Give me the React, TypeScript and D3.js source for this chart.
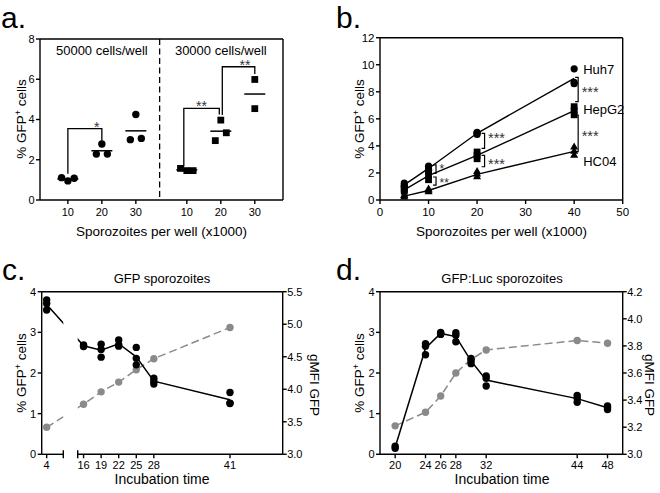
import React from "react";
import * as d3 from "d3";

const FONT = "'Liberation Sans', Arial, Helvetica, sans-serif";
const SW = 1.4;
const GREY = "#8a8a8a";

// ---------- Panel a ----------
const aDoses = ["10", "20", "30"];
const aGroupLabels = ["50000 cells/well", "30000 cells/well"];
const a50k = [[1.11, 0.95, 1.08], [2.78, 2.28, 2.28], [4.25, 3.0, 3.06]];
const a30k = [[1.57, 1.46, 1.46], [3.97, 2.95, 3.34], [5.99, 4.54]];
const aYTicks = [0, 2, 4, 6, 8];
const aSig = [
  { group: 0, from: 0, to: 1, left: 1.3, top: 3.55, right: 2.95, label: "*", at: 0.85 },
  { group: 1, from: 0, to: 1, left: 1.66, top: 4.55, right: 4.25, label: "**", at: 0.5 },
  { group: 1, from: 1, to: 2, left: 4.22, top: 6.62, right: 6.26, label: "**", at: 0.7 },
];

// ---------- Panel b ----------
const bDoses = [5, 10, 20, 40];
const bHuh7 = [[1.25, 1.1, 1.0], [2.5, 2.3, 2.2], [5.0, 4.95, 4.85], [9.7, 8.7, 8.6]];
const bHepG2 = [[0.85, 0.75, 0.65], [2.1, 1.8, 1.5], [3.55, 3.3, 3.05], [6.9, 6.6, 6.3]];
const bHC04 = [[0.35, 0.3, 0.2], [0.8, 0.7, 0.6], [2.1, 1.9, 1.7], [3.9, 3.6, 3.3]];
const bSeriesNames = ["Huh7", "HepG2", "HC04"];
const bLabelValues = [9.65, 6.7, 2.85];
const bXTicks = [0, 10, 20, 30, 40, 50];
const bYTicks = [0, 2, 4, 6, 8, 10, 12];
const bSig = [
  { x: 40, top: 9.06, bottom: 7.27, label: "***", at: 8.2 },
  { x: 40, top: 6.28, bottom: 3.57, label: "***", at: 4.95 },
  { x: 20, top: 4.93, bottom: 3.82, label: "***", at: 4.8 },
  { x: 20, top: 3.3, bottom: 2.46, label: "***", at: 2.85 },
  { x: 10, top: 2.6, bottom: 1.97, label: "*", at: 2.5 },
  { x: 10, top: 1.7, bottom: 1.1, label: "**", at: 1.45 },
];

// ---------- Panel c ----------
const cTimes = [4, 16, 19, 22, 25, 28, 41];
const cPct = [
  [3.8, 3.71, 3.55], [2.69, 2.67, 2.65], [2.71, 2.58, 2.39], [2.81, 2.69, 2.66],
  [2.63, 2.36, 2.2], [1.87, 1.8, 1.73], [1.52, 1.25, 1.26],
];
const cMFI = [3.415, 3.77, 3.96, 4.11, 4.3, 4.47, 4.95];
const cLeftTicks = [0, 1, 2, 3, 4];
const cRightTicks = [3.0, 3.5, 4.0, 4.5, 5.0, 5.5];

// ---------- Panel d ----------
const dTimes = [20, 24, 26, 28, 30, 32, 44, 48];
const dPct = [
  [0.2, 0.15], [2.72, 2.66, 2.45], [3.0, 2.97, 2.95], [2.99, 2.93, 2.77],
  [2.36, 2.3, 2.23], [1.93, 1.87, 1.68], [1.45, 1.38, 1.28], [1.19, 1.15, 1.1],
];
const dMFI = [3.21, 3.31, 3.43, 3.6, 3.7, 3.77, 3.84, 3.82];
const dXTicks = [20, 24, 26, 28, 32, 44, 48];
const dLeftTicks = [0, 1, 2, 3, 4];
const dRightTicks = [3.0, 3.2, 3.4, 3.6, 3.8, 4.0, 4.2];

// ---------- helpers ----------
function YTitle({ x, y }: { x: number; y: number }) {
  return (
    <text transform={`translate(${x},${y}) rotate(-90)`} textAnchor="middle" dy="0.35em" fontSize={13.5}>
      % GFP<tspan dy={-5} fontSize={9}>+</tspan>
      <tspan dy={5}> cells</tspan>
    </text>
  );
}

function LeftAxis({ scale, ticks, x, fs = 11, fmt = (v: number) => String(v) }: any) {
  const [y0, y1] = scale.range();
  return (
    <g>
      <line x1={x} x2={x} y1={y0} y2={y1} stroke="#000" strokeWidth={SW} />
      {ticks.map((t: number) => (
        <g key={t}>
          <line x1={x - 4} x2={x} y1={scale(t)} y2={scale(t)} stroke="#000" strokeWidth={SW} />
          <text x={x - 5.5} y={scale(t)} dy="0.36em" textAnchor="end" fontSize={fs}>{fmt(t)}</text>
        </g>
      ))}
    </g>
  );
}

function RightAxis({ scale, ticks, x, fs = 11, fmt = (v: number) => v.toFixed(1) }: any) {
  const [y0, y1] = scale.range();
  return (
    <g>
      <line x1={x} x2={x} y1={y0} y2={y1} stroke="#000" strokeWidth={SW} />
      {ticks.map((t: number) => (
        <g key={t}>
          <line x1={x} x2={x + 4} y1={scale(t)} y2={scale(t)} stroke="#000" strokeWidth={SW} />
          <text x={x + 4.5} y={scale(t)} dy="0.36em" textAnchor="start" fontSize={fs}>{fmt(t)}</text>
        </g>
      ))}
    </g>
  );
}

function spreadOffsets(vals: number[], thr: number) {
  const idx = vals.map((v, i) => i).sort((a, b) => vals[a] - vals[b]);
  const clusters: number[][] = [];
  idx.forEach((i) => {
    const last = clusters[clusters.length - 1];
    if (last && vals[i] - vals[last[last.length - 1]] < thr) last.push(i);
    else clusters.push([i]);
  });
  const off = vals.map(() => 0);
  clusters.forEach((c) => {
    const ordered = [...c].sort((a, b) => a - b);
    const step = ordered.length === 2 ? 11 : 6.3;
    ordered.forEach((i, k) => {
      off[i] = (k - (ordered.length - 1) / 2) * step;
    });
  });
  return off;
}

// ---------- Panel A ----------
function PanelA() {
  const x = d3.scaleLinear().domain([0.18, 7.33]).range([40, 283]);
  const y = d3.scaleLinear().domain([0, 8]).range([200, 39]);
  const pos = (g: number, i: number) => g * 3.5 + i + 1;
  const groups = [a50k, a30k];
  return (
    <g>
      <text x={1} y={28} fontSize={30}>a.</text>
      <line x1={40} x2={283} y1={39} y2={39} stroke="#000" strokeWidth={SW} />
      <line x1={283} x2={283} y1={39} y2={200} stroke="#000" strokeWidth={SW} />
      <LeftAxis scale={y} ticks={aYTicks} x={40} fs={11} />
      <line x1={40} x2={283} y1={200} y2={200} stroke="#000" strokeWidth={SW} />
      {groups.map((g, gi) =>
        aDoses.map((d, i) => (
          <g key={`t${gi}${i}`}>
            <line x1={x(pos(gi, i))} x2={x(pos(gi, i))} y1={200} y2={204} stroke="#000" strokeWidth={SW} />
            <text x={x(pos(gi, i))} y={215.5} textAnchor="middle" fontSize={11}>{d}</text>
          </g>
        ))
      )}
      <line x1={x(3.7)} x2={x(3.7)} y1={39} y2={200} stroke="#000" strokeWidth={1.3} strokeDasharray="6,3.5" />
      {aGroupLabels.map((l, gi) => (
        <text key={l} x={x(pos(gi, 1))} y={54.5} textAnchor="middle" fontSize={13}>{l}</text>
      ))}
      {groups.map((g, gi) =>
        g.map((vals, i) => {
          const cx = x(pos(gi, i));
          const off = spreadOffsets(vals, 0.45);
          const m = d3.mean(vals) as number;
          return (
            <g key={`p${gi}${i}`}>
              <line x1={cx - 10.5} x2={cx + 10.5} y1={y(m)} y2={y(m)} stroke="#000" strokeWidth={1.5} />
              {vals.map((v, k) =>
                gi === 0 ? (
                  <circle key={k} cx={cx + off[k]} cy={y(v)} r={3.7} fill="#000" />
                ) : (
                  <rect key={k} x={cx + off[k] - 3.4} y={y(v) - 3.4} width={6.8} height={6.8} fill="#000" />
                )
              )}
            </g>
          );
        })
      )}
      {aSig.map((s, i) => {
        const x1 = x(pos(s.group, s.from)) + (s.group === 1 && s.from === 1 ? 1.5 : s.group === 1 ? -3 : 0);
        const x2 = x(pos(s.group, s.to)) + (s.group === 1 && s.to === 1 ? -1.5 : 0);
        const lx = x1 + (x2 - x1) * s.at;
        return (
          <g key={i}>
            <path
              d={`M${x1},${y(s.left)}V${y(s.top)}H${x2}V${y(s.right)}`}
              fill="none"
              stroke="#000"
              strokeWidth={1.3}
            />
            <text x={lx} y={y(s.top) + 3} textAnchor="middle" fontSize={14} fill="#333">{s.label}</text>
          </g>
        );
      })}
      <YTitle x={21.5} y={119} />
      <text x={161.5} y={236} textAnchor="middle" fontSize={13.5}>Sporozoites per well (x1000)</text>
    </g>
  );
}

// ---------- Panel B ----------
function Marker({ type, cx, cy }: { type: number; cx: number; cy: number }) {
  if (type === 0) return <circle cx={cx} cy={cy} r={3.6} fill="#000" />;
  if (type === 1) return <rect x={cx - 3.4} y={cy - 3.4} width={6.8} height={6.8} fill="#000" />;
  const p = d3.symbol(d3.symbolTriangle, 28)() as string;
  return <path d={p} transform={`translate(${cx},${cy})`} fill="#000" />;
}

function PanelB() {
  const x = d3.scaleLinear().domain([0, 50]).range([380, 622.7]);
  const y = d3.scaleLinear().domain([0, 12]).range([200, 37.7]);
  const series = [bHuh7, bHepG2, bHC04];
  const line = d3
    .line<number[]>()
    .x((_, i) => x(bDoses[i]))
    .y((v) => y(d3.mean(v) as number));
  return (
    <g>
      <text x={336} y={28} fontSize={30}>b.</text>
      <line x1={380} x2={622.7} y1={37.7} y2={37.7} stroke="#000" strokeWidth={SW} />
      <line x1={622.7} x2={622.7} y1={37.7} y2={200} stroke="#000" strokeWidth={SW} />
      <LeftAxis scale={y} ticks={bYTicks} x={380} fs={11.5} />
      <line x1={380} x2={622.7} y1={200} y2={200} stroke="#000" strokeWidth={SW} />
      {bXTicks.map((t) => (
        <g key={t}>
          <line x1={x(t)} x2={x(t)} y1={200} y2={204} stroke="#000" strokeWidth={SW} />
          <text x={x(t)} y={215.5} textAnchor="middle" fontSize={11.5}>{t}</text>
        </g>
      ))}
      {series.map((s, si) => (
        <g key={si}>
          <path d={line(s) as string} fill="none" stroke="#000" strokeWidth={1.4} />
          {s.map((vals, i) => vals.map((v, k) => <Marker key={`${i}-${k}`} type={si} cx={x(bDoses[i])} cy={y(v)} />))}
        </g>
      ))}
      {bSeriesNames.map((n, i) => (
        <text key={n} x={x(40) + 9} y={y(bLabelValues[i])} dy="0.36em" fontSize={13}>{n}</text>
      ))}
      {bSig.map((s, i) => {
        const off = s.x === 40 ? 4 : 7.5;
        const bx = x(s.x) + off;
        const fs = s.x === 10 ? 12 : 14.5;
        return (
          <g key={i}>
            <path
              d={`M${bx - 3},${y(s.top)}H${bx}V${y(s.bottom)}H${bx - 3}`}
              fill="none"
              stroke="#000"
              strokeWidth={1.2}
            />
            <text x={bx + 3.5} y={y(s.at) + fs * 0.55} fontSize={fs} fill="#333">{s.label}</text>
          </g>
        );
      })}
      <YTitle x={359} y={119} />
      <text x={501.5} y={236} textAnchor="middle" fontSize={13.5}>Sporozoites per well (x1000)</text>
    </g>
  );
}

// ---------- Panel C ----------
function PanelC() {
  const xL = d3.scaleLinear().domain([3.15, 6.85]).range([41.7, 63.3]);
  const xR = d3.scaleLinear().domain([15, 50]).range([77.7, 282.7]);
  const xc = (t: number) => (t < 10 ? xL(t) : xR(t));
  const y = d3.scaleLinear().domain([0, 4]).range([454.3, 291.7]);
  const y2 = d3.scaleLinear().domain([3.0, 5.5]).range([454.3, 291.7]);
  const blackLine = d3
    .line<number[]>()
    .x((_, i) => xc(cTimes[i]))
    .y((v) => y(d3.mean(v) as number));
  const greyLine = d3
    .line<number>()
    .x((_, i) => xc(cTimes[i]))
    .y((v) => y2(v));
  const yb = 454.3;
  return (
    <g>
      <defs>
        <clipPath id="clipC">
          <rect x={38} y={280} width={63.3 - 38} height={180} />
          <rect x={77.7} y={280} width={210} height={180} />
        </clipPath>
      </defs>
      <text x={2} y={280} fontSize={30}>c.</text>
      <text x={162} y={282.5} textAnchor="middle" fontSize={13}>GFP sporozoites</text>
      <line x1={41.7} x2={282.7} y1={291.7} y2={291.7} stroke="#000" strokeWidth={SW} />
      <LeftAxis scale={y} ticks={cLeftTicks} x={41.7} fs={11} />
      <RightAxis scale={y2} ticks={cRightTicks} x={282.7} fs={11} />
      <line x1={41.7} x2={63.3} y1={yb} y2={yb} stroke="#000" strokeWidth={SW} />
      <line x1={63.3} x2={63.3} y1={yb - 4} y2={yb + 4} stroke="#000" strokeWidth={SW} />
      <line x1={77.7} x2={282.7} y1={yb} y2={yb} stroke="#000" strokeWidth={SW} />
      <line x1={77.7} x2={77.7} y1={yb - 4} y2={yb + 4} stroke="#000" strokeWidth={SW} />
      {cTimes.map((t) => (
        <g key={t}>
          <line x1={xc(t)} x2={xc(t)} y1={yb} y2={yb + 4} stroke="#000" strokeWidth={SW} />
          <text x={xc(t)} y={468.5} textAnchor="middle" fontSize={11}>{t}</text>
        </g>
      ))}
      <g clipPath="url(#clipC)">
        <path d={greyLine(cMFI) as string} fill="none" stroke={GREY} strokeWidth={1.5} strokeDasharray="8,4" />
        <path d={blackLine(cPct) as string} fill="none" stroke="#000" strokeWidth={1.5} />
      </g>
      {cMFI.map((v, i) => (
        <circle key={`g${i}`} cx={xc(cTimes[i])} cy={y2(v)} r={3.7} fill={GREY} />
      ))}
      {cPct.map((vals, i) =>
        vals.map((v, k) => <circle key={`b${i}-${k}`} cx={xc(cTimes[i])} cy={y(v)} r={3.7} fill="#000" />)
      )}
      <YTitle x={21.7} y={373} />
      <text transform="translate(315,385) rotate(90)" textAnchor="middle" dy="0.35em" fontSize={13.5}>gMFI GFP</text>
      <text x={162} y={484} textAnchor="middle" fontSize={14}>Incubation time</text>
    </g>
  );
}

// ---------- Panel D ----------
function PanelD() {
  const x = d3.scaleLinear().domain([18, 50]).range([380, 622.7]);
  const y = d3.scaleLinear().domain([0, 4]).range([454.3, 291.7]);
  const y2 = d3.scaleLinear().domain([3.0, 4.2]).range([454.3, 291.7]);
  const blackLine = d3
    .line<number[]>()
    .x((_, i) => x(dTimes[i]))
    .y((v) => y(d3.mean(v) as number));
  const greyLine = d3
    .line<number>()
    .x((_, i) => x(dTimes[i]))
    .y((v) => y2(v));
  const yb = 454.3;
  return (
    <g>
      <text x={336} y={280} fontSize={30}>d.</text>
      <text x={502} y={282.5} textAnchor="middle" fontSize={13}>GFP:Luc sporozoites</text>
      <line x1={380} x2={622.7} y1={291.7} y2={291.7} stroke="#000" strokeWidth={SW} />
      <LeftAxis scale={y} ticks={dLeftTicks} x={380} fs={11} />
      <RightAxis scale={y2} ticks={dRightTicks} x={622.7} fs={11} />
      <line x1={380} x2={622.7} y1={yb} y2={yb} stroke="#000" strokeWidth={SW} />
      {dXTicks.map((t) => (
        <g key={t}>
          <line x1={x(t)} x2={x(t)} y1={yb} y2={yb + 4} stroke="#000" strokeWidth={SW} />
          <text x={x(t)} y={468.5} textAnchor="middle" fontSize={11}>{t}</text>
        </g>
      ))}
      <path d={greyLine(dMFI) as string} fill="none" stroke={GREY} strokeWidth={1.5} strokeDasharray="8,4" />
      <path d={blackLine(dPct) as string} fill="none" stroke="#000" strokeWidth={1.5} />
      {dMFI.map((v, i) => (
        <circle key={`g${i}`} cx={x(dTimes[i])} cy={y2(v)} r={3.7} fill={GREY} />
      ))}
      {dPct.map((vals, i) =>
        vals.map((v, k) => <circle key={`b${i}-${k}`} cx={x(dTimes[i])} cy={y(v)} r={3.7} fill="#000" />)
      )}
      <YTitle x={359} y={373} />
      <text transform="translate(650,385) rotate(90)" textAnchor="middle" dy="0.35em" fontSize={13.5}>gMFI GFP</text>
      <text x={502} y={484} textAnchor="middle" fontSize={14}>Incubation time</text>
    </g>
  );
}

export default function App() {
  return (
    <svg
      width={660}
      height={493}
      viewBox="0 0 660 493"
      style={{ position: "absolute", left: 0, top: 0, display: "block" }}
      fontFamily={FONT}
    >
      <rect width={660} height={493} fill="#fff" />
      <PanelA />
      <PanelB />
      <PanelC />
      <PanelD />
    </svg>
  );
}
